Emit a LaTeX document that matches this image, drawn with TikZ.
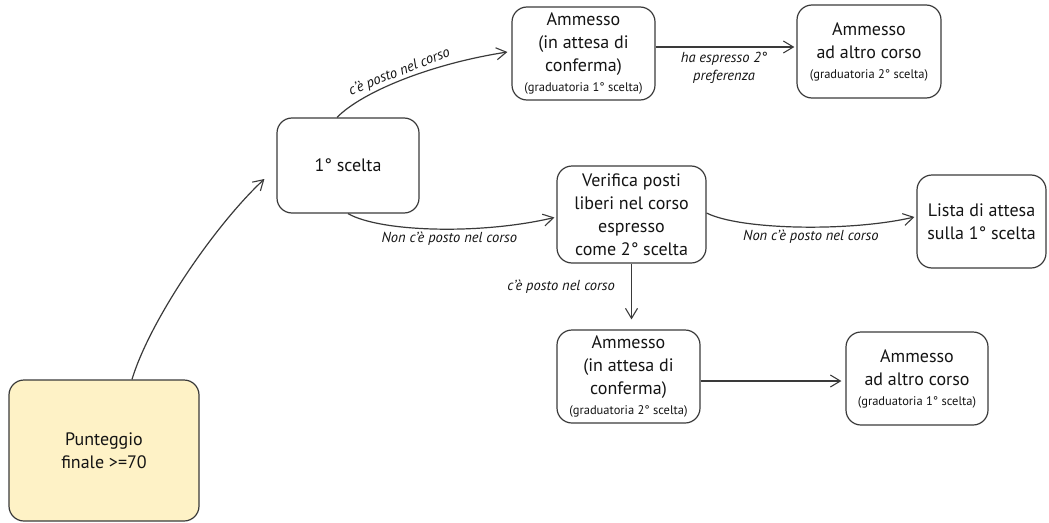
\documentclass[tikz,border=0pt]{standalone}
\usepackage{fontspec}
\setmainfont{PT Sans}
\usetikzlibrary{arrows.meta,calc}
\definecolor{ln}{HTML}{3A3A3A}
\definecolor{yel}{HTML}{FEF2C6}
\begin{document}
\begin{tikzpicture}[x=1pt,y=-1pt,
  box/.style={draw=ln, line width=1.2pt, rounded corners=15pt, inner sep=0pt, align=center,
    font=\fontsize{18}{23}\selectfont, text=black!92},
  conn/.style={draw=ln, line width=1.2pt, -{Straight Barb[length=10pt,width=12pt,line width=1.1pt]}},
  lbl/.style={font=\fontsize{14.5}{18}\selectfont\itshape, text=black!92, align=center, inner sep=2pt}]
\useasboundingbox (0,0) rectangle (1049,522);
\newcommand{\smalltxt}[1]{\\[-3pt]{\fontsize{12.5}{14}\selectfont #1}}
\node[box, fill=yel, minimum width=190pt, minimum height=141pt] (P) at (104,450.5) {Punteggio\\finale >=70};
\node[box, minimum width=142pt, minimum height=95pt] (S1) at (348,165.5) {1° scelta};
\node[box, minimum width=143pt, minimum height=93pt] (A1) at (583.5,53.5) {Ammesso\\(in attesa di\\conferma)\smalltxt{(graduatoria 1° scelta)}};
\node[box, minimum width=144pt, minimum height=93pt] (A2) at (869,51.5) {Ammesso\\ad altro corso\smalltxt{(graduatoria 2° scelta)}};
\node[box, minimum width=149pt, minimum height=97pt] (V) at (631.5,214.5) {Verifica posti\\liberi nel corso\\espresso\\come 2° scelta};
\node[box, minimum width=129pt, minimum height=93pt] (L) at (981.5,221.5) {Lista di attesa\\sulla 1° scelta};
\node[box, minimum width=143pt, minimum height=93pt] (B1) at (628.5,376.5) {Ammesso\\(in attesa di\\conferma)\smalltxt{(graduatoria 2° scelta)}};
\node[box, minimum width=142pt, minimum height=93pt] (B2) at (917,378.5) {Ammesso\\ad altro corso\smalltxt{(graduatoria 1° scelta)}};

\draw[conn] ([xshift=28pt]P.north) .. controls (150,320) and (215,225) .. ([xshift=-12pt,yshift=-13.5pt]S1.west);
\draw[conn] ([xshift=-11pt]S1.north) .. controls (362,92) and (430,64) .. node[lbl, sloped, above, pos=0.5, inner sep=1pt] {c’è posto nel corso} ([xshift=-4pt,yshift=1.5pt]A1.west);
\draw[conn] (S1.south) .. controls (380,232) and (480,235) .. node[lbl, below, pos=0.56] {Non c’è posto nel corso} ([xshift=-2pt,yshift=-3pt]V.west);
\draw[conn] ([yshift=6.5pt]A1.east) -- node[lbl, below=3pt, xshift=-1pt] {ha espresso 2°\\preferenza} ([xshift=-2pt,yshift=4.5pt]A2.west);
\draw[conn] ([yshift=1.5pt]V.east) .. controls (740,230) and (850,232) .. node[lbl, below, pos=0.55] {Non c’è posto nel corso} ([xshift=-2pt,yshift=4.5pt]L.west);
\draw[conn] (V.south) -- node[lbl, left=14pt, pos=0.42] {c’è posto nel corso} ($(V.south |- B1.north)+(0,-10)$);
\draw[conn] ([yshift=-4.5pt]B1.east) -- ([xshift=-4pt,yshift=-2.5pt]B2.west);
\end{tikzpicture}
\end{document}
